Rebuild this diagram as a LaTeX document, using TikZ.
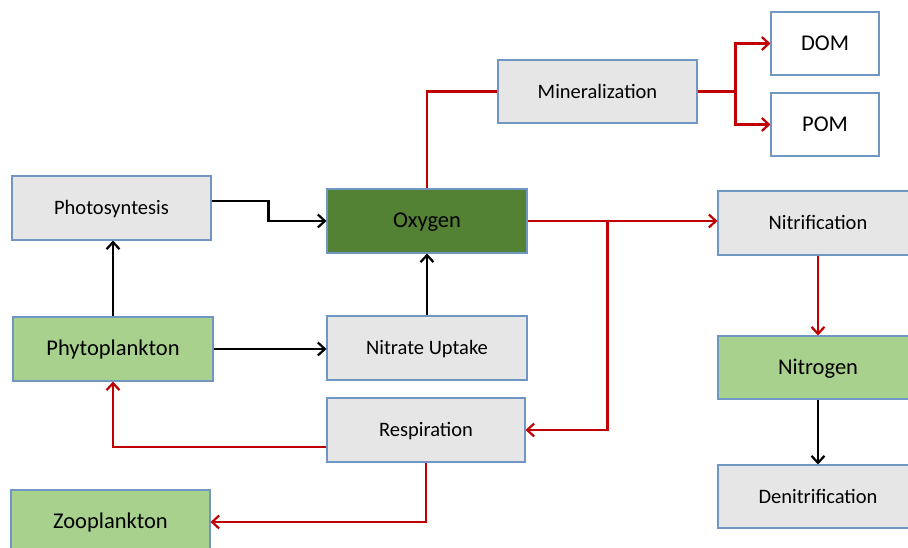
\documentclass[tikz,border=0pt]{standalone}
\usepackage{fontspec}
\setmainfont{Carlito}
\usetikzlibrary{arrows.meta,calc}
\definecolor{boxedge}{HTML}{7096C4}
\definecolor{greyfill}{HTML}{E6E6E6}
\definecolor{lightgreen}{HTML}{A9D18E}
\definecolor{darkgreen}{HTML}{548235}
\definecolor{flowred}{HTML}{C00000}
\tikzset{
  box/.style={draw=boxedge, line width=1.1pt, minimum width=200pt, minimum height=64pt,
    inner sep=0pt, text=black, text height=13pt, text depth=0pt},
  greybox/.style={box, fill=greyfill, font=\fontsize{20.5}{24}\selectfont},
  greenbox/.style={box, fill=lightgreen, font=\fontsize{22.5}{26}\selectfont},
  oxybox/.style={box, fill=darkgreen, font=\fontsize{22.5}{26}\selectfont},
  whitebox/.style={box, fill=white, minimum width=108pt, minimum height=63pt,
    font=\fontsize{22.5}{26}\selectfont},
  blackflow/.style={draw=black, line width=2.8pt, -{Straight Barb[length=7pt,width=13pt,line width=2.2pt]}},
  redflow/.style={draw=flowred, line width=2.8pt, -{Straight Barb[length=7pt,width=13pt,line width=2.2pt]}},
  redline/.style={draw=flowred, line width=2.8pt},
}
\begin{document}
\begin{tikzpicture}[x=1pt, y=-1pt]
\useasboundingbox (0,0) rectangle (908,547);

% boxes
\node[greybox, minimum width=199pt] (photo) at (111.5,208) {Photosyntesis};
\node[greenbox] (phyto) at (113,349) {Phytoplankton};
\node[oxybox] (oxy) at (427,221) {Oxygen};
\node[greybox] (nitrate) at (427,348) {Nitrate Uptake};
\node[greybox, minimum width=198pt] (resp) at (426,430) {Respiration};
\node[greenbox, minimum width=199pt] (zoo) at (110.5,522) {Zooplankton};
\node[greybox, minimum width=199pt, minimum height=63pt] (mineral) at (597.5,91.5) {Mineralization};
\node[whitebox] (dom) at (825,43.5) {DOM};
\node[whitebox] (pom) at (825,124.5) {POM};
\node[greybox] (nitrif) at (818,223) {Nitrification};
\node[greenbox, minimum height=63pt] (nitrogen) at (818,367.5) {Nitrogen};
\node[greybox, minimum height=63pt] (denit) at (818,496.5) {Denitrification};

% black flows
\draw[blackflow] ([yshift=7pt]photo.east) -- ++(57,0) |- (oxy.west);
\draw[blackflow] (phyto.north) -- (phyto.north |- photo.south);
\draw[blackflow] (phyto.east) -- (phyto.east -| nitrate.west);
\draw[blackflow] (nitrate.north) -- (oxy.south);
\draw[blackflow] (nitrogen.south) -- (denit.north);

% red flows
\draw[redline] (oxy.north) |- (mineral.west);
\coordinate (split) at ([xshift=38pt]mineral.east);
\draw[redline] (mineral.east) -- (split);
\draw[redflow] (split) |- (dom.west);
\draw[redflow] (split) |- (pom.west);
\draw[redflow] (oxy.east) -- (oxy.east -| nitrif.west);
\coordinate (branch) at ([xshift=80pt]oxy.east);
\draw[redflow] (branch) |- (resp.east);
\draw[redflow] (nitrif.south) -- (nitrogen.north);
\draw[redflow] ([yshift=-17pt]resp.west) -| (phyto.south);
\draw[redflow] (resp.south) |- (zoo.east);
\end{tikzpicture}
\end{document}
